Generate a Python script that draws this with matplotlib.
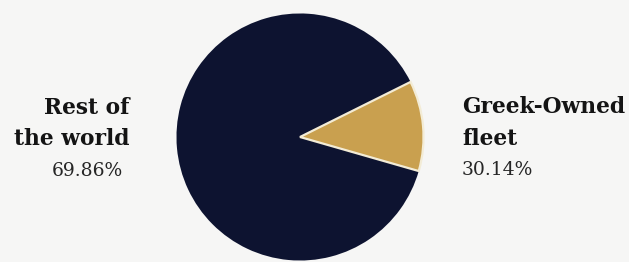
import matplotlib
matplotlib.use("Agg")
import matplotlib.pyplot as plt

# Shares as drawn in the picture (wedge sizes) and the printed labels
names = ["Greek-Owned\nfleet", "Rest of\nthe world"]
pct_labels = ["30.14%", "69.86%"]
wedge_sizes = [11.8, 88.2]
colors = ["#c9a04f", "#0d1330"]

W, H = 629, 262
fig = plt.figure(figsize=(W / 100, H / 100), dpi=100)
fig.patch.set_facecolor("#f6f6f5")

# pie: centre (300, 137) px, radius 126 px
cx, cy, r = 300, 137, 126
ax = fig.add_axes([(cx - r) / W, (H - cy - r) / H, 2 * r / W, 2 * r / H])
wedges, _ = ax.pie(wedge_sizes, colors=colors, startangle=-16, counterclock=True)
# only the gold slice gets the light outline
wedges[1].set_linewidth(0)
wedges[0].set_edgecolor("#f3ecd6")
wedges[0].set_linewidth(1.6)
wedges[0].set_zorder(3)
ax.set_xlim(-1.02, 1.02)
ax.set_ylim(-1.02, 1.02)
ax.axis("off")


def px(x, y):
    return x / W, 1 - y / H


bold = dict(family="DejaVu Serif", fontweight="bold", fontsize=15.7,
            color="#141414", va="baseline")
reg = dict(family="DejaVu Serif", fontsize=13.5, color="#262626", va="baseline")

# left label (right aligned)
left_lines = names[1].split("\n")
fig.text(*px(129, 114), left_lines[0], ha="right", **bold)
fig.text(*px(129, 145), left_lines[1], ha="right", **bold)
fig.text(*px(123, 176), pct_labels[1], ha="right", **reg)

# right label (left aligned)
right_lines = names[0].split("\n")
fig.text(*px(462, 113), right_lines[0], ha="left", **bold)
fig.text(*px(462, 145), right_lines[1], ha="left", **bold)
fig.text(*px(462, 175), pct_labels[0], ha="left", **reg)

fig.savefig("out.png", dpi=100, facecolor=fig.get_facecolor())
